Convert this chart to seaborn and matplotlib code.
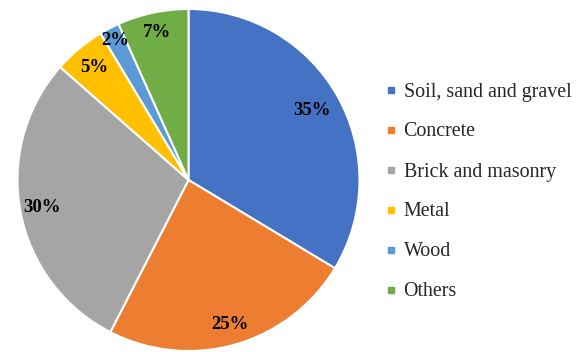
import numpy as np
import matplotlib
matplotlib.use("Agg")
import matplotlib.pyplot as plt
from matplotlib.lines import Line2D
import seaborn as sns

categories = ["Soil, sand and gravel", "Concrete", "Brick and masonry", "Metal", "Wood", "Others"]
shares = [33.6, 23.9, 28.9, 4.9, 1.9, 6.7]
pct_labels = ["35%", "25%", "30%", "5%", "2%", "7%"]
colors = ["#4472C4", "#ED7D31", "#A5A5A5", "#FFC000", "#5B9BD5", "#70AD47"]

sns.set_theme(style="white")
plt.rcParams['font.family'] = ['Liberation Serif', 'DejaVu Serif']
palette = sns.color_palette(colors)

W, H = 583, 352
fig = plt.figure(figsize=(W / 100, H / 100), dpi=100)
cx, cy, r = 188.5, 180, 171
ax = fig.add_axes([(cx - r) / W, (H - cy - r) / H, 2 * r / W, 2 * r / H])

wedges, texts, autotexts = ax.pie(
    shares, colors=palette, startangle=90, counterclock=False,
    autopct="%1.0f%%", pctdistance=0.87,
    wedgeprops=dict(edgecolor="white", linewidth=1.5),
    textprops=dict(fontsize=13.5, fontweight="bold", color="black"),
)
label_dist = [0.83, 0.88, 0.87, 0.86, 0.92, 0.88]
for w, t, lab, d in zip(wedges, autotexts, pct_labels, label_dist):
    t.set_text(lab)
    ang = np.deg2rad((w.theta1 + w.theta2) / 2)
    t.set_position((d * np.cos(ang), d * np.sin(ang)))
ax.set_xlim(-1, 1)
ax.set_ylim(-1, 1)
ax.set_aspect("equal")
ax.axis("off")

handles = [Line2D([0], [0], marker="s", linestyle="none", markersize=5,
                  markerfacecolor=c, markeredgecolor=c) for c in palette]
fig.legend(handles, categories, loc="upper left",
           bbox_to_anchor=(384.5 / W, 1 - 82.5 / H), frameon=False,
           fontsize=14.4, labelspacing=1.05, handlelength=0.6,
           handletextpad=0.35, borderaxespad=0, borderpad=0)

fig.savefig("out.png", dpi=100, facecolor="white")
